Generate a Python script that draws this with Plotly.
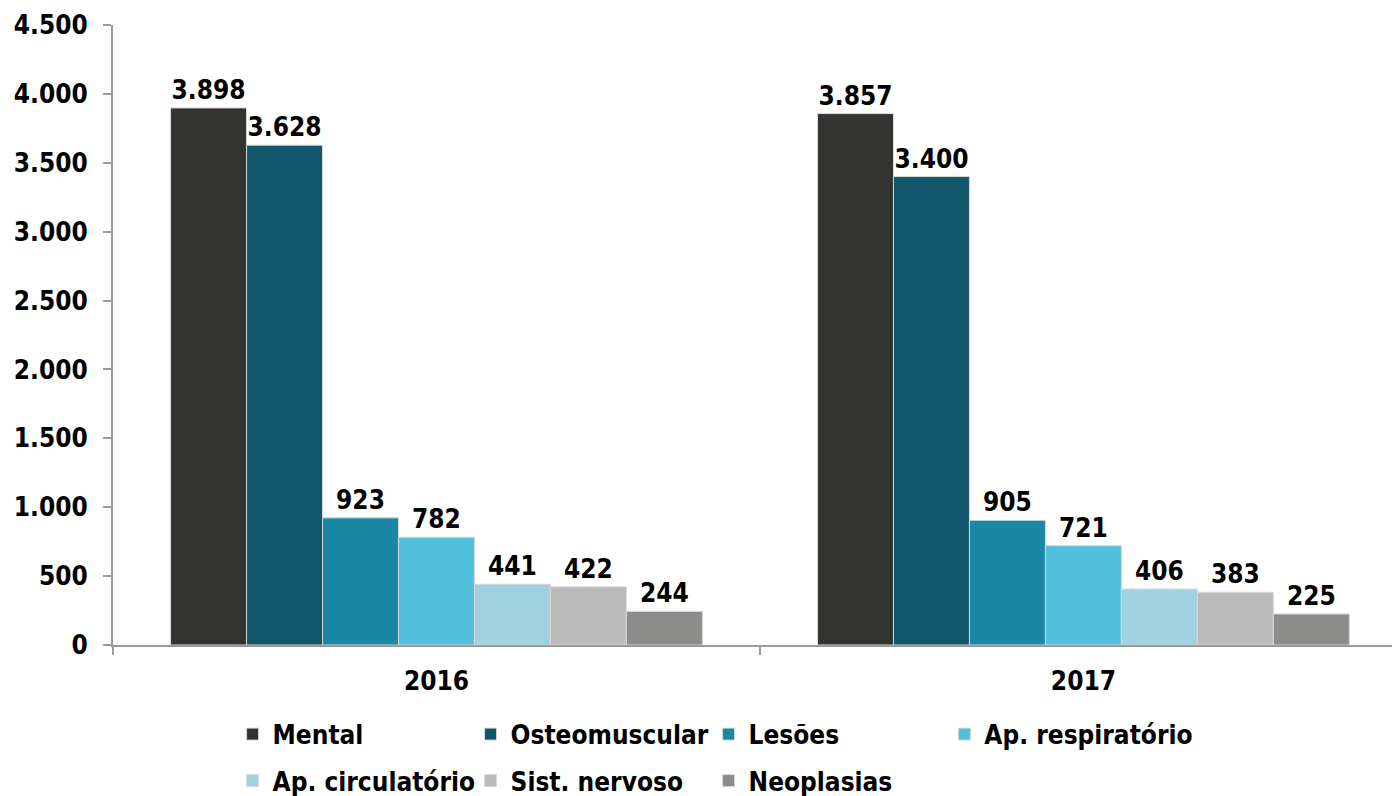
import plotly.graph_objects as go

years = ["2016", "2017"]
series_names = ["Mental", "Osteomuscular", "Lesões", "Ap. respiratório",
                "Ap. circulatório", "Sist. nervoso", "Neoplasias"]
values_2016 = [3898, 3628, 923, 782, 441, 422, 244]
values_2017 = [3857, 3400, 905, 721, 406, 383, 225]
colors = ["#333331", "#11566B", "#1A87A6", "#52BFDB", "#9FD2E0", "#BBBBBB", "#8C8C8B"]
y_ticks = [0, 500, 1000, 1500, 2000, 2500, 3000, 3500, 4000, 4500]
legend_of = ["legend", "legend", "legend", "legend3", "legend2", "legend2", "legend2"]

FONT = dict(family="DejaVu Sans Condensed, DejaVu Sans", size=26, color="#000000", weight="bold")

fig = go.Figure()
for i, name in enumerate(series_names):
    fig.add_trace(go.Bar(
        x=years,
        y=[values_2016[i], values_2017[i]],
        name=name,
        marker=dict(color=colors[i], line=dict(color="#d8d8d8", width=1)),
        texttemplate="%{y:,.0f}",
        textposition="outside",
        textfont=FONT,
        cliponaxis=False,
        legend=legend_of[i],
    ))

legend_common = dict(orientation="h", xanchor="left", yanchor="top", font=FONT,
                     bgcolor="rgba(0,0,0,0)", traceorder="normal")

fig.update_layout(
    width=1392, height=796,
    margin=dict(l=113, r=0, t=25, b=151, autoexpand=False),
    paper_bgcolor="white", plot_bgcolor="white",
    separators=",.",
    barmode="group", bargap=0.178, bargroupgap=0,
    font=FONT,
    showlegend=True,
    legend=dict(x=0.0935, y=-0.106, entrywidth=193, entrywidthmode="pixels", **legend_common),
    legend2=dict(x=0.0935, y=-0.181, entrywidth=193, entrywidthmode="pixels", **legend_common),
    legend3=dict(x=0.65, y=-0.106, **legend_common),
    xaxis=dict(
        type="category", range=[-0.5, 1.477], automargin=False,
        showline=True, linecolor="#9a9a9a", linewidth=2,
        ticks="outside", tickson="boundaries", ticklen=8, tickcolor="#9a9a9a", tickwidth=2,
        tickfont=FONT, showgrid=False, zeroline=False, ticklabelstandoff=12,
    ),
    yaxis=dict(
        range=[0, 4500], tickvals=y_ticks, tickformat=",.0f", automargin=False,
        showline=True, linecolor="#9a9a9a", linewidth=2,
        ticks="outside", ticklen=8, tickcolor="#9a9a9a", tickwidth=2,
        tickfont=FONT, showgrid=False, zeroline=False, ticklabelstandoff=10,
    ),
)

fig.write_html("out.html", config={"displayModeBar": False},
               post_script="document.body.style.margin='0px';")
